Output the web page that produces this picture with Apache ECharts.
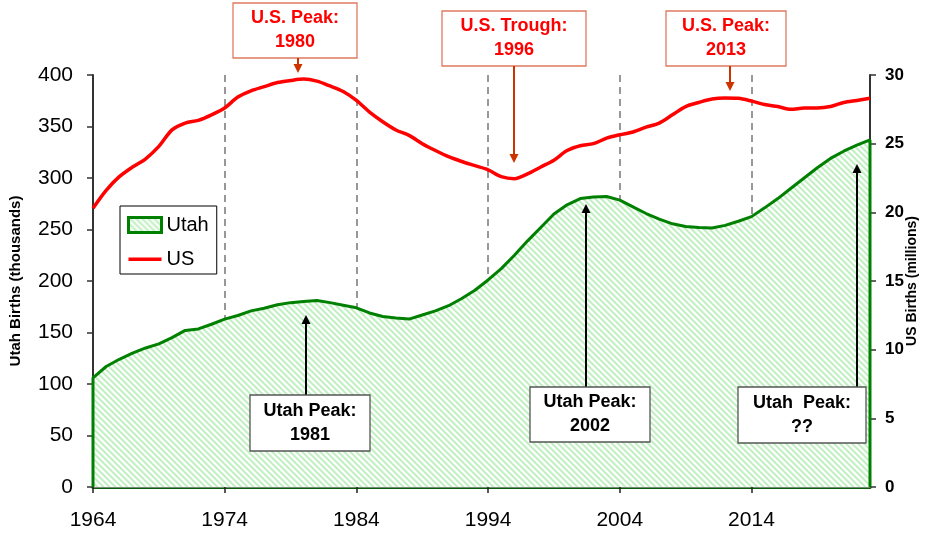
<!DOCTYPE html>
<html><head><meta charset="utf-8">
<script src="https://cdn.jsdelivr.net/npm/echarts@6/dist/echarts.min.js"></script>
<style>html,body{margin:0;padding:0;background:#fff}#c{width:928px;height:535px}</style>
</head><body><div id="c"></div>
<script>
// ---- data ----
const years = [1964,1965,1966,1967,1968,1969,1970,1971,1972,1973,1974,1975,1976,1977,1978,1979,1980,1981,1982,1983,1984,1985,1986,1987,1988,1989,1990,1991,1992,1993,1994,1995,1996,1997,1998,1999,2000,2001,2002,2003,2004,2005,2006,2007,2008,2009,2010,2011,2012,2013,2014,2015,2016,2017,2018,2019,2020,2021,2022,2023];
// Utah births (thousands), left axis
const utahBirths = [106,117,124,130,135,139,145,152,153.5,158,163,166.5,171,173.5,177,179,180,181,179,176.5,174,169,165.5,164,163,167,171,176,183,191,201,212,225,239,252,265,274,280,281.5,282,278.5,272,265.5,260,255.5,253,252,251.5,254,258,262.5,271,280,290,300,310,319,326,332,337];
// US series, right axis
const usBirths = [20.3,21.6,22.6,23.3,23.9,24.8,26.0,26.5,26.7,27.1,27.6,28.4,28.85,29.15,29.45,29.6,29.7,29.55,29.2,28.8,28.15,27.3,26.6,26.0,25.6,25.0,24.5,24.05,23.7,23.4,23.1,22.6,22.45,22.8,23.3,23.8,24.5,24.85,25.0,25.4,25.65,25.85,26.2,26.5,27.1,27.7,28.0,28.25,28.33,28.3,28.1,27.85,27.7,27.5,27.6,27.6,27.7,28.0,28.15,28.3];
const xTickYears = [1964,1974,1984,1994,2004,2014];
const leftTicks = {min:0, max:400, interval:50};
const rightTicks = {min:0, max:30, interval:5};
const seriesNames = ['Utah','US'];

// ---- hatch pattern ----
const pc = document.createElement('canvas');
pc.width = 6; pc.height = 6;
const pctx = pc.getContext('2d');
pctx.fillStyle = '#ffffff'; pctx.fillRect(0,0,6,6);
const shades = ['#bdeebd','#c6f1c6','#e2f8e2','#ffffff','#ffffff','#e2f8e2'];
for (let y=0;y<6;y++) for (let x=0;x<6;x++){
  const d = (((x - y) % 6) + 6) % 6;
  pctx.fillStyle = shades[d]; pctx.fillRect(x,y,1,1);
}
const hatch = {image: pc, repeat: 'repeat'};

const FONT = "'Liberation Sans', Arial, sans-serif";
const utahData = [[years[0],0]].concat(years.map((y,i)=>[y,utahBirths[i]])).concat([[years[years.length-1],0]]);
const usData = years.map((y,i)=>[y,usBirths[i]]);

// ---- annotations (layout only) ----
function box(x,y,w,h,lines,stroke,fill,textColor){
  return [
    {type:'rect', z:100, shape:{x:x,y:y,width:w,height:h}, style:{fill:'#fff',stroke:stroke,lineWidth:1.3}},
    {type:'text', z:101, style:{x:x+w/2,y:y+h/2,text:lines,align:'center',verticalAlign:'middle',
      font:"bold 18px "+FONT,fill:textColor,lineHeight:24}}
  ];
}
function arrow(x,y1,y2,color){
  const dir = y2>y1?1:-1;
  return [
    {type:'line', z:100, shape:{x1:x,y1:y1,x2:x,y2:y2-dir*8}, style:{stroke:color,lineWidth:2}},
    {type:'polygon', z:100, shape:{points:[[x-4.5,y2-dir*9],[x+4.5,y2-dir*9],[x,y2]]}, style:{fill:color}}
  ];
}
const usStroke = '#e07a5f', usText = '#ff0000', usArrow = '#cc3300';
const graphics = [].concat(
  box(233,3,124,55,'U.S. Peak:\n1980',usStroke,'#fff',usText), arrow(298,58,73,usArrow),
  box(442,11,144,55,'U.S. Trough:\n1996',usStroke,'#fff',usText), arrow(514,66,163,usArrow),
  box(666,11,120,55,'U.S. Peak:\n2013',usStroke,'#fff',usText), arrow(730,66,91,usArrow),
  arrow(306,395,315,'#000'), box(250,395,120,56,'Utah Peak:\n1981','#555','#fff','#000'),
  arrow(586,387,204,'#000'), box(530,387,120,55,'Utah Peak:\n2002','#555','#fff','#000'),
  arrow(857,387,164,'#000'), box(738,387,128,56,'Utah  Peak:\n??','#555','#fff','#000')
);

const chart = echarts.init(document.getElementById('c'), null, {renderer:'canvas'});
chart.setOption({
  animation:false,
  backgroundColor:'#fff',
  textStyle:{fontFamily:FONT},
  grid:{left:93,right:58,top:75,bottom:48,containLabel:false,outerBoundsMode:'none'},
  legend:{
    left:120, top:206, orient:'vertical',
    itemWidth:33, itemHeight:15, itemGap:14,
    padding:[9,8,5,7],
    borderColor:'#000', borderWidth:1, backgroundColor:'#fff',
    textStyle:{fontSize:20,color:'#000',fontFamily:FONT},
    data:[
      {name:seriesNames[0], icon:'rect', itemStyle:{color:hatch,borderColor:'#008000',borderWidth:3}},
      {name:seriesNames[1], icon:'path://M0,0 M33,15 M0,6 L33,6 L33,9.5 L0,9.5 Z', itemStyle:{color:'#ff0000',borderWidth:0}}
    ]
  },
  xAxis:[{
    type:'value', min:years[0], max:years[years.length-1],
    axisLine:{show:true,lineStyle:{color:'#0b5d0b',width:3}},
    axisTick:{show:true,customValues:xTickYears,length:6,lineStyle:{color:'#222',width:1.5}},
    axisLabel:{customValues:xTickYears,formatter:v=>String(v),fontSize:21,color:'#000',margin:23,fontFamily:FONT},
    splitLine:{show:true,lineStyle:{color:'#777',type:[7,5],width:1.5}}
  },{
    type:'value', position:'top', min:years[0], max:years[years.length-1],
    axisLine:{show:true,lineStyle:{color:'#999',width:1.5}},
    axisTick:{show:false}, axisLabel:{show:false}, splitLine:{show:false}
  }],
  yAxis:[{
    type:'value', min:leftTicks.min, max:leftTicks.max, interval:leftTicks.interval,
    name:'Utah Births (thousands)', nameLocation:'middle', nameRotate:90, nameGap:70,
    nameTextStyle:{fontSize:15,fontWeight:'bold',color:'#000',fontFamily:FONT},
    axisLine:{show:true,lineStyle:{color:'#333',width:2}},
    axisTick:{show:true,length:6,lineStyle:{color:'#333',width:1.5}},
    axisLabel:{fontSize:21,color:'#000',margin:20,fontFamily:FONT},
    splitLine:{show:false}
  },{
    type:'value', position:'right', min:rightTicks.min, max:rightTicks.max, interval:rightTicks.interval,
    name:'US Births (millions)', nameLocation:'middle', nameRotate:90, nameGap:35, nameMoveOverlap:false,
    nameTextStyle:{fontSize:14,fontWeight:'bold',color:'#000',fontFamily:FONT},
    axisLine:{show:true,lineStyle:{color:'#333',width:2}},
    axisTick:{show:true,length:6,lineStyle:{color:'#333',width:1.5}},
    axisLabel:{fontSize:17,fontWeight:'bold',color:'#000',margin:15,fontFamily:FONT},
    splitLine:{show:false}
  }],
  series:[{
    name:seriesNames[0], type:'line', xAxisIndex:0, yAxisIndex:0,
    data:utahData, symbol:'none', showSymbol:false,
    lineStyle:{color:'#008000',width:3}, itemStyle:{color:'#008000'},
    areaStyle:{color:hatch,opacity:1}, z:3
  },{
    name:seriesNames[1], type:'line', xAxisIndex:0, yAxisIndex:1,
    data:usData, symbol:'none', showSymbol:false, smooth:0.3,
    lineStyle:{color:'#ff0000',width:3.5}, itemStyle:{color:'#ff0000'}, z:4
  }],
  graphic:graphics
});
</script>
</body></html>
